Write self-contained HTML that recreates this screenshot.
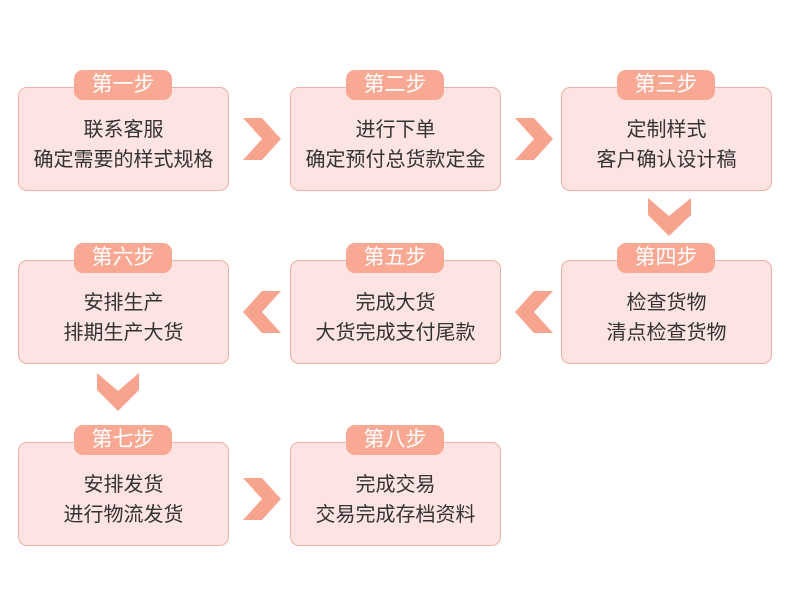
<!DOCTYPE html>
<html><head><meta charset="utf-8"><style>
body{margin:0;width:790px;height:591px;background:#fff;position:relative;overflow:hidden;font-family:"Liberation Sans","Noto Sans CJK SC",sans-serif}
.box{position:absolute;width:211px;height:104px;background:#fde4e2;border:1px solid #f0b0a4;border-radius:9px;box-sizing:border-box;text-align:center;color:#333;font-size:20px;line-height:30px;padding-top:27px}
.tag{position:absolute;width:98px;height:30px;background:#f8a893;border-radius:9px;color:#fff;font-size:21px;line-height:30px;text-align:center}
svg{position:absolute;left:0;top:0}
</style></head><body>
<div class="box" style="left:18px;top:87px">联系客服<br>确定需要的样式规格</div>
<div class="box" style="left:290px;top:87px">进行下单<br>确定预付总货款定金</div>
<div class="box" style="left:561px;top:87px">定制样式<br>客户确认设计稿</div>
<div class="box" style="left:18px;top:260px">安排生产<br>排期生产大货</div>
<div class="box" style="left:290px;top:260px">完成大货<br>大货完成支付尾款</div>
<div class="box" style="left:561px;top:260px">检查货物<br>清点检查货物</div>
<div class="box" style="left:18px;top:442px">安排发货<br>进行物流发货</div>
<div class="box" style="left:290px;top:442px">完成交易<br>交易完成存档资料</div>
<div class="tag" style="left:74px;top:70px">第一步</div>
<div class="tag" style="left:346px;top:70px">第二步</div>
<div class="tag" style="left:617px;top:70px">第三步</div>
<div class="tag" style="left:74px;top:243px">第六步</div>
<div class="tag" style="left:346px;top:243px">第五步</div>
<div class="tag" style="left:617px;top:243px">第四步</div>
<div class="tag" style="left:74px;top:425px">第七步</div>
<div class="tag" style="left:346px;top:425px">第八步</div>
<svg width="790" height="591" fill="#f7a48e">
<polygon points="243,118 262,118 281,139 262,160 243,160 262,139"/>
<polygon points="515,118 534,118 553,139 534,160 515,160 534,139"/>
<polygon points="243,478 262,478 281,499 262,520 243,520 262,499"/>
<polygon points="281,291 262,291 243,312 262,333 281,333 262,312"/>
<polygon points="553,291 534,291 515,312 534,333 553,333 534,312"/>
<polygon points="648,198 669,216 691,198 691,215 669,236 648,215"/>
<polygon points="97,373 118,391 139,373 139,390 118,411 97,390"/>
</svg>
</body></html>
